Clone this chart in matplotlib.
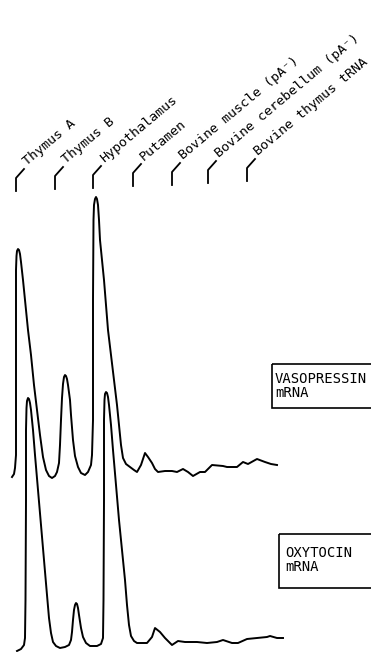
import matplotlib.pyplot as plt
from matplotlib.patches import Rectangle

# Lane labels across the top (one per sample lane)
lane_labels = ["Thymus A", "Thymus B", "Hypothalamus", "Putamen",
               "Bovine muscle (pA⁻)", "Bovine cerebellum (pA⁻)", "Bovine thymus tRNA"]
lane_x = [16, 55, 93, 133, 172, 208, 247]
lane_y = [191, 189, 188, 186, 185, 183, 181]

# Densitometer scan, vasopressin probe (position along gel, pen position)
vaso_x = [12, 14, 15, 16, 16, 16, 16.5, 17, 18, 19, 20, 21, 23, 25, 28, 31, 34, 37,
          40, 43, 46, 49, 52, 55, 57, 59, 60, 61, 62, 63, 64, 65, 66, 67, 68, 70,
          71, 73, 75, 78, 81, 85, 88, 91, 92, 93, 93, 93.5, 94, 95, 96, 97, 98, 99,
          100, 102, 104, 106, 108, 111, 114, 117, 119, 121, 123, 126, 130, 134, 137,
          141, 145, 148, 152, 155, 158, 165, 172, 177, 183, 188, 193, 200, 205, 212,
          223, 227, 237, 243, 248, 257, 265, 271, 277]
vaso_y = [477, 474, 468, 455, 350, 270, 256, 251, 249, 250, 254, 262, 280, 300, 330,
          355, 385, 410, 435, 457, 470, 476, 478, 476, 472, 463, 445, 420, 398, 384,
          377, 375, 376, 379, 385, 400, 415, 440, 456, 467, 473, 475, 472, 465, 455,
          420, 300, 220, 205, 199, 197, 199, 205, 220, 240, 260, 280, 305, 330, 355,
          380, 405, 425, 445, 458, 464, 467, 470, 472, 465, 453, 457, 463, 469, 472,
          471, 471, 472, 469, 472, 476, 472, 472, 465, 466, 467, 467, 462, 464, 459,
          462, 464, 465]

# Densitometer scan, oxytocin probe
oxy_x = [17, 21, 24, 25, 25.5, 26, 26, 26.5, 27, 28, 29, 30, 31, 33, 35, 38, 41, 44,
         47, 49, 51, 53, 56, 60, 65, 69, 71, 72, 73, 74, 75, 76, 77, 78, 79, 81, 83,
         86, 90, 97, 101, 103, 103.5, 104, 104, 104.5, 105, 106, 107, 108, 109, 111,
         113, 116, 119, 122, 125, 127, 129, 131, 134, 137, 147, 152, 155, 160, 165,
         172, 175, 178, 185, 197, 207, 217, 223, 232, 238, 247, 257, 267, 270, 277, 283]
oxy_y = [651, 649, 645, 638, 600, 500, 430, 408, 401, 398, 399, 403, 410, 430, 455,
         490, 525, 560, 595, 618, 633, 642, 646, 648, 647, 645, 640, 632, 620, 610,
         605, 603, 604, 608, 615, 628, 637, 643, 646, 646, 644, 638, 600, 500, 420,
         400, 394, 392, 393, 397, 405, 425, 450, 485, 520, 550, 580, 605, 625, 636,
         641, 643, 643, 637, 628, 632, 638, 645, 643, 641, 642, 642, 643, 642, 640,
         643, 643, 639, 638, 637, 636, 638, 638]

box_names = ["VASOPRESSIN\nmRNA", "OXYTOCIN\nmRNA"]

fig = plt.figure(figsize=(3.71, 6.52), dpi=100)
ax = fig.add_axes([0, 0, 1, 1])
ax.set_xlim(0, 371)
ax.set_ylim(652, 0)
ax.axis("off")

mono = "DejaVu Sans Mono"

# traces
ax.plot(vaso_x, vaso_y, color="black", lw=1.4, solid_joinstyle="round")
ax.plot(oxy_x, oxy_y, color="black", lw=1.4, solid_joinstyle="round")

# lane markers and slanted labels
for label, x, y in zip(lane_labels, lane_x, lane_y):
    ax.plot([x, x, x + 8], [y, y - 13, y - 22], color="black", lw=1.3)
    ax.text(x + 11, y - 25, label, rotation=40, rotation_mode="anchor",
            ha="left", va="baseline", fontsize=9.6, family=mono)

# boxed labels on the right
ax.add_patch(Rectangle((272, 364), 110, 44, fill=False, lw=1.2, ec="black"))
ax.text(275, 386, box_names[0], fontsize=10, family=mono, va="center",
        linespacing=1.0)
ax.add_patch(Rectangle((279, 534), 110, 54, fill=False, lw=1.2, ec="black"))
ax.text(285, 560, box_names[1], fontsize=10, family=mono, va="center",
        linespacing=1.0)

plt.savefig("out.png", dpi=100)
